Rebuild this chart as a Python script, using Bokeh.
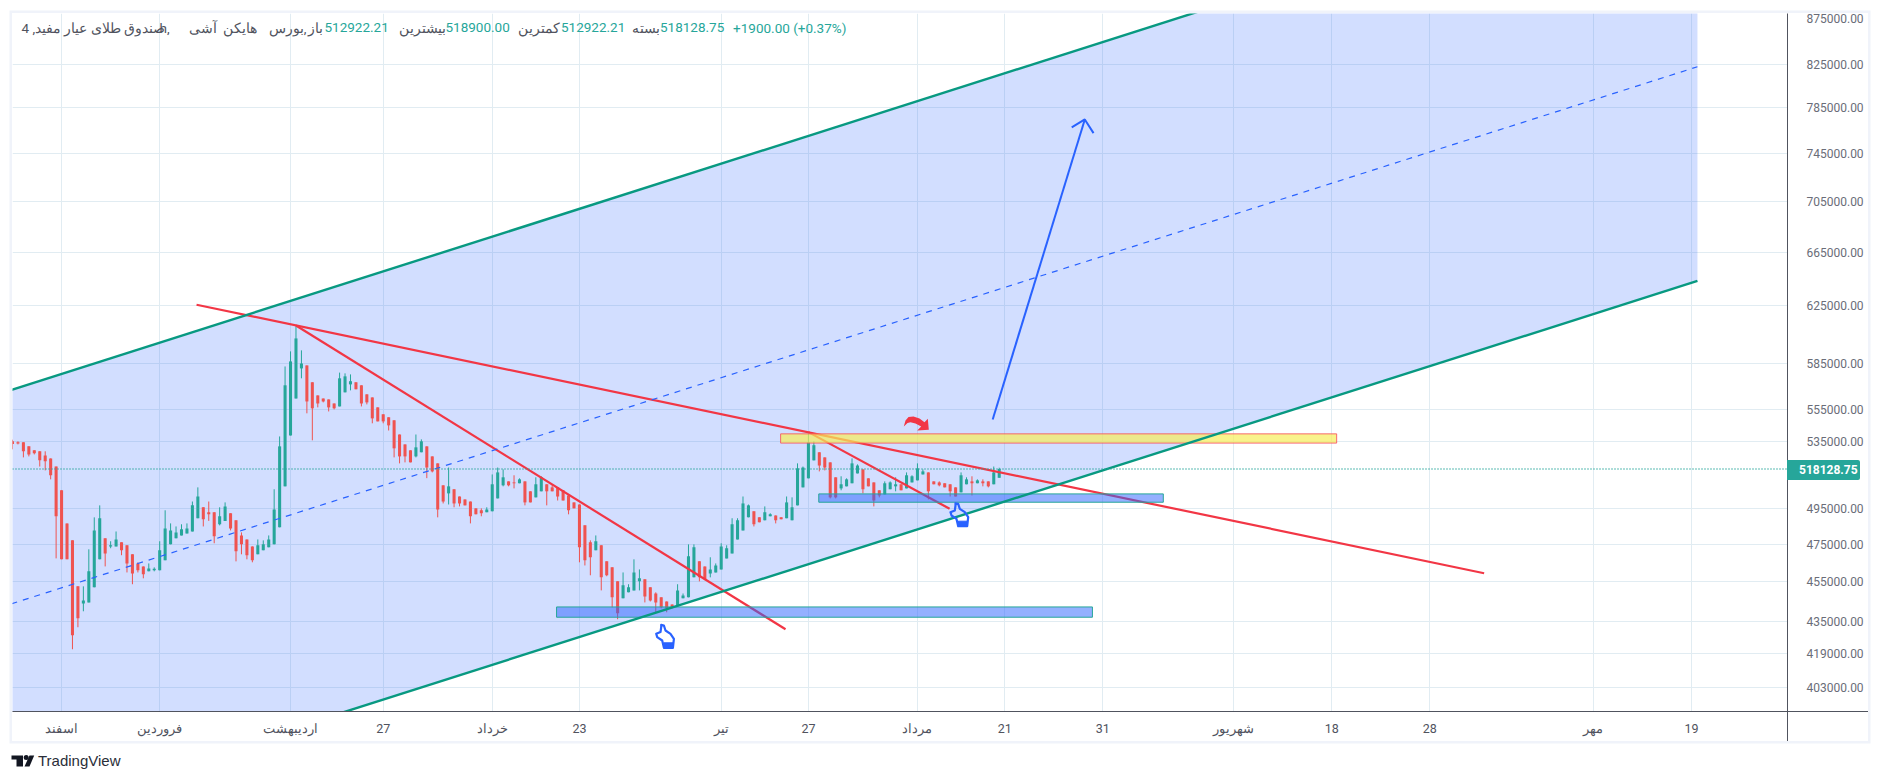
import math
from bokeh.plotting import figure
from bokeh.layouts import column
from bokeh.models import (Range1d, FixedTicker, NumeralTickFormatter, Span, Label, Div)
from bokeh.embed import file_html
from bokeh.resources import INLINE

# ---------- candles, prices in thousands ----------
opens_k = [
534.9,534.3,534.3,531.8,529.4,528.8,526.3,524.5,519.6,505.6,
486.7,477.3,452.7,443.9,444.4,452.2,467.0,478.4,474.0,474.0,
476.2,474.6,469.7,464.8,463.2,460.6,461.1,461.1,466.5,475.1,
478.4,480.0,481.1,482.2,489.6,495.8,493.0,493.0,486.2,488.1,
492.4,488.4,480.0,477.8,474.0,469.7,471.9,473.5,475.1,484.5,
507.9,538.5,561.9,581.7,583.7,572.5,563.9,561.9,561.3,558.7,
556.8,565.9,571.1,572.5,570.5,564.6,562.6,556.2,551.8,549.9,
548.0,539.1,533.0,529.4,525.7,528.2,531.8,525.7,521.5,508.5,
503.8,506.2,502.0,500.3,499.1,495.2,494.1,493.0,493.5,500.9,
508.5,510.8,510.2,509.7,510.8,505.0,501.5,505.0,509.1,507.3,
507.3,505.6,502.6,498.6,497.4,485.6,476.2,471.9,474.6,465.9,
462.7,455.3,446.5,449.6,450.6,455.3,456.4,452.2,449.0,447.0,
444.9,443.4,442.4,446.5,447.0,457.4,465.9,463.2,459.5,460.0,
461.6,467.5,470.2,477.8,482.8,490.1,493.5,490.1,488.4,490.7,
491.2,490.1,489.6,488.4,496.9,507.3,512.6,523.3,528.2,525.1,
522.1,513.2,506.7,507.9,509.7,515.5,517.9,512.6,510.2,505.6,
503.2,506.2,507.9,509.1,506.7,510.2,511.4,514.9,516.1,510.8,
510.2,509.7,509.1,507.3,504.4,509.1,510.8,509.7,510.8,510.8,
509.1,512.92]
closes_k = [
533.2,533.6,528.8,526.9,527.6,523.3,522.7,514.4,490.7,467.0,
467.0,427.9,436.4,445.4,460.6,482.8,489.6,470.2,474.6,477.8,
471.9,464.8,459.5,461.1,459.0,462.1,462.0,471.9,483.9,482.8,
481.7,483.4,483.9,496.9,502.0,489.0,491.8,479.5,490.7,496.3,
483.9,471.3,475.1,469.2,466.5,474.6,475.1,477.8,494.6,531.8,
570.5,586.4,602.1,585.0,560.0,555.6,558.7,560.0,556.2,555.6,
575.1,576.4,573.2,567.9,558.7,559.4,549.2,547.3,547.3,544.8,
530.6,525.7,525.7,522.1,531.2,534.9,519.0,516.7,494.6,499.1,
507.9,498.0,498.0,496.9,490.7,491.8,492.4,494.6,509.1,516.1,
513.2,508.5,509.7,512.0,498.6,498.6,509.1,513.2,505.0,505.0,
502.0,499.7,494.1,495.2,473.5,466.5,468.1,476.8,457.4,458.5,
447.0,438.9,453.3,452.2,460.0,456.9,447.5,445.4,444.4,441.9,
441.4,441.9,450.6,448.0,468.6,473.5,457.4,456.4,461.6,463.7,
474.0,473.0,486.2,488.4,498.0,496.9,486.2,487.3,493.0,491.8,
488.4,489.0,498.6,495.8,518.5,519.0,534.3,532.5,520.2,519.0,
501.5,501.5,509.1,512.0,521.5,520.2,506.2,507.9,499.7,502.6,
509.7,510.2,509.1,505.6,514.4,513.8,518.5,516.7,505.0,509.1,
508.5,507.3,505.0,502.0,514.4,512.0,509.7,511.4,509.7,507.9,
516.1,518.13]
highs_k = [
535.9,534.9,534.3,531.8,529.4,528.8,528.8,524.5,519.6,505.6,
486.7,477.3,452.7,452.7,472.4,490.1,496.9,478.4,476.8,482.2,
476.2,474.6,469.7,465.4,463.2,464.8,462.7,476.8,494.1,486.7,
485.0,486.2,486.7,499.1,507.3,495.8,499.1,493.0,495.8,498.6,
492.4,488.4,481.7,477.8,474.0,477.8,477.3,480.0,506.2,537.9,
583.0,593.2,610.5,593.9,583.7,572.5,563.9,561.9,561.3,558.7,
578.9,578.4,577.7,572.5,570.5,564.6,562.6,556.2,551.8,549.9,
548.0,539.1,533.0,529.4,539.1,536.1,531.8,525.7,521.5,508.5,
519.0,506.2,502.0,500.3,499.1,495.2,495.2,495.8,514.9,519.0,
517.9,510.8,514.4,512.6,510.8,505.0,513.2,513.8,509.1,508.5,
507.3,505.6,502.6,498.6,497.4,485.6,477.3,480.0,474.6,465.9,
462.7,455.3,460.0,453.8,467.0,461.6,456.4,452.2,449.6,447.0,
444.9,443.4,453.8,449.0,475.1,475.1,465.9,463.2,468.1,464.8,
475.7,474.6,489.6,489.6,502.0,497.4,493.5,490.1,496.3,492.4,
491.2,490.1,502.0,501.5,521.5,519.6,539.7,534.9,528.2,525.1,
522.1,513.2,513.8,512.6,524.5,520.9,517.9,512.6,510.2,505.6,
510.8,510.8,513.2,509.1,516.1,514.4,521.5,517.9,516.1,510.8,
510.8,509.7,509.1,507.3,516.1,513.2,513.8,512.0,512.0,510.8,
519.6,518.9]
lows_k = [
530.0,533.0,525.1,525.7,526.9,519.6,517.3,512.0,467.5,467.0,
467.0,421.1,431.9,439.9,444.4,452.2,467.0,463.2,473.0,474.0,
469.2,460.0,453.8,460.0,456.9,460.6,460.6,461.1,466.5,475.1,
478.4,480.0,481.1,482.2,489.6,485.0,488.1,475.7,485.6,488.1,
482.8,465.9,469.7,467.0,465.4,469.7,471.9,473.5,475.1,484.5,
507.9,538.5,561.9,575.1,552.4,535.5,556.2,559.4,553.6,554.9,
556.8,565.9,567.2,567.9,556.8,558.1,546.1,547.3,546.1,541.6,
525.1,521.5,522.1,522.1,525.1,528.2,512.7,516.1,490.1,498.0,
497.4,495.8,496.3,496.9,486.7,491.8,490.7,493.0,493.5,500.9,
507.9,507.9,506.7,509.7,496.9,498.6,501.5,505.0,496.9,505.0,
499.7,499.7,491.8,495.2,465.4,463.7,458.5,471.9,450.6,458.0,
441.9,435.9,446.5,449.6,450.6,450.6,444.4,444.9,439.4,441.4,
439.4,441.4,442.4,446.5,447.0,457.4,455.3,455.9,457.4,460.0,
461.6,467.5,470.2,477.8,482.8,490.1,485.0,487.3,488.4,490.7,
486.7,489.0,489.6,488.4,496.9,507.3,512.6,523.3,516.7,517.3,
500.9,500.9,505.6,507.9,509.7,515.5,503.8,507.9,496.3,501.5,
503.2,506.2,505.0,505.6,506.7,510.2,511.4,514.9,500.3,509.1,
507.9,507.3,502.0,502.0,504.4,509.1,502.6,509.7,507.9,507.3,
509.1,512.92]
assert len(opens_k) == len(closes_k) == len(highs_k) == len(lows_k) == 182

last_price = 518128.75
y_ticks = [875000, 825000, 785000, 745000, 705000, 665000, 625000, 585000, 555000,
           535000, 495000, 475000, 455000, 435000, 419000, 403000]
x_ticks = [9, 27, 51, 68, 88, 104, 130, 146, 166, 182, 200, 224, 242, 260, 290, 308]
x_labels = ["اسفند", "فروردین", "اردیبهشت", "27", "خرداد", "23", "تیر", "27", "مرداد",
            "21", "31", "شهریور", "18", "28", "مهر", "19"]

# ---------- drawings, as (bar index, price) ----------
channel_x = [-0.2, 309.08]
channel_upper = [567500, 1053000]
channel_lower = [346800, 643300]
channel_mid = [443700, 823000]
trend_long = ([33.76, 269.95], [625900, 459600])
trend_steep = ([52, 141.8], [611100, 430900])
trend_short = ([146, 171.9], [540600, 495000])
zone_yellow = (140.9, 242.9, 533800, 539500)
zone_blue_top = (147.9, 211.1, 498700, 503500)
zone_blue_low = (99.8, 198.1, 436900, 442100)
arrow_shaft = ([179.8, 196.7], [548500, 774600])
arrow_head = ([194.3, 196.7, 198.3], [767600, 774600, 762500])

# ---------- frame geometry ----------
Y_MIN, Y_MAX = 392000, 875000
X_MAX = 325.6
PX_BAR = 1775 / X_MAX
PX_LOG = 698 / math.log(Y_MAX / Y_MIN)
def i_at(px):
    return (px - 12) / PX_BAR
def p_at(py):
    return Y_MAX * math.exp(-(py - 13) / PX_LOG)

UP, DOWN = "#26a69a", "#ef5350"
BLUE = "#2962ff"
RED = "#f23645"
TEAL = "#089981"
GRID = "#e1ecf2"
AXIS = "#50535e"
BAND = "#f0f3fa"

p = figure(width=1856, height=728, output_backend="svg", toolbar_location=None,
           x_range=Range1d(0, X_MAX), y_range=Range1d(Y_MIN, Y_MAX),
           y_axis_type="log", y_axis_location="right",
           min_border_left=0, min_border_top=0, min_border_right=81, min_border_bottom=30,
           margin=(13, 0, 0, 12), styles={"box-shadow": "0 0 0 2.5px " + BAND})
p.outline_line_color = None
p.background_fill_color = "white"
p.border_fill_color = "white"

xa = p.xaxis[0]
xa.ticker = FixedTicker(ticks=x_ticks)
xa.major_label_overrides = dict(zip(x_ticks, x_labels))
xa.major_tick_line_color = None
xa.minor_tick_line_color = None
xa.axis_line_color = AXIS
xa.major_label_text_color = AXIS
xa.major_label_text_font = "Roboto"
xa.major_label_text_font_size = "12.5px"
xa.major_label_standoff = 3

ya = p.yaxis[0]
ya.ticker = FixedTicker(ticks=y_ticks)
ya.formatter = NumeralTickFormatter(format="0.00")
ya.major_tick_line_color = None
ya.minor_tick_line_color = None
ya.axis_line_color = AXIS
ya.major_label_text_color = "#6a6d78"
ya.major_label_text_font = "Roboto"
ya.major_label_text_font_size = "12px"
ya.major_label_standoff = 13

p.xgrid.grid_line_color = GRID
p.ygrid.grid_line_color = GRID

# channel fill
p.patch(channel_x + channel_x[::-1], channel_upper + channel_lower[::-1],
        fill_color=BLUE, fill_alpha=0.21, line_alpha=0)

# candles
idx = list(range(len(opens_k)))
o = [v * 1000 for v in opens_k]
c = [v * 1000 for v in closes_k]
h = [v * 1000 for v in highs_k]
l = [v * 1000 for v in lows_k]
col = [UP if cv >= ov else DOWN for ov, cv in zip(o, c)]
p.segment(idx, h, idx, l, line_color=col, line_width=1)
p.vbar(x=idx, top=[max(a, b) for a, b in zip(o, c)], bottom=[min(a, b) for a, b in zip(o, c)],
       width=0.56, fill_color=col, line_alpha=0)

# last price line
p.add_layout(Span(location=last_price, dimension="width", line_color=UP, line_width=1.3, line_dash="1 2"))

# trend lines
p.line(*trend_long, line_color=RED, line_width=2.2)
p.line(*trend_steep, line_color=RED, line_width=2.2)
p.line(*trend_short, line_color=RED, line_width=2.2)

# zones
def zone(z, fill, alpha, edge, edge_alpha=1.0):
    p.quad(left=z[0], right=z[1], bottom=z[2], top=z[3], fill_color=fill, fill_alpha=alpha,
           line_color=edge, line_width=1, line_alpha=edge_alpha)
zone(zone_yellow, "#f7ee5a", 0.7, "#f7525f", 0.85)
zone(zone_blue_top, BLUE, 0.5, UP)
zone(zone_blue_low, BLUE, 0.5, UP)

# channel borders
p.line(channel_x, channel_upper, line_color=TEAL, line_width=2.4)
p.line(channel_x, channel_lower, line_color=TEAL, line_width=2.4)
p.line(channel_x, channel_mid, line_color=BLUE, line_width=1.2, line_dash="6 6")

# blue target arrow
p.line(*arrow_shaft, line_color=BLUE, line_width=2)
p.line(*arrow_head, line_color=BLUE, line_width=2)

# hand icons (outline given in px around the anchor)
hand_dx = [5, 7.7, 9.3, 14.3, 17.7, 16.7, 7.7, 6, 1, 0, 4.3, 5]
hand_dy = [0, 0.7, 5.7, 9, 14, 23, 23, 15.7, 12.3, 9, 7.3, 2.3]
cuff_dx = [7.5, 16.9, 16.7, 7.7]
cuff_dy = [18, 18, 23, 23]
for anchor_px, anchor_py in [(655.7, 624.3), (950.0, 502.7)]:
    p.patch([i_at(anchor_px + d) for d in hand_dx], [p_at(anchor_py + d) for d in hand_dy],
            fill_alpha=0, line_color=BLUE, line_width=2.2, line_join="round")
    p.patch([i_at(anchor_px + d) for d in cuff_dx], [p_at(anchor_py + d) for d in cuff_dy],
            fill_color=BLUE, line_color=BLUE, line_width=1)

# red curved arrow
curve_px = [903.3, 905, 908, 913, 919, 924, 927.3, 928.3, 916.7, 920.7, 915, 910, 907, 903.3]
curve_py = [426, 420, 416.5, 416, 418, 421.7, 418.3, 429.3, 430, 426, 423, 421.7, 422.5, 426]
p.patch([i_at(v) for v in curve_px], [p_at(v) for v in curve_py], fill_color=RED, line_alpha=0)

# header
HEAD_Y = p_at(27)
def head(text, px, color, align="left"):
    p.add_layout(Label(x=i_at(px), y=HEAD_Y, text=text, text_color=color, text_align=align,
                       text_baseline="middle", text_font="Roboto", text_font_size="13.5px"))
GREY = "#50535e"
head("صندوق طلای عیار مفید, 4", 21, GREY)
head("h,", 159, GREY)
head("آشی", 216, GREY, "right")
head("هایکن", 256, GREY, "right")
head("بورس,", 306, GREY, "right")
head("باز", 322, GREY, "right")
head("512922.21", 324, UP)
head("بیشترین", 445, GREY, "right")
head("518900.00", 445, UP)
head("کمترین", 559, GREY, "right")
head("512922.21", 560.5, UP)
head("بسته", 659, GREY, "right")
head("518128.75", 659.5, UP)
head("+1900.00 (+0.37%)", 732.6, UP)

# TradingView mark under the chart
logo_bar_x = [11, 22.5, 22.5, 16, 16, 11]
logo_bar_y = [755, 755, 766, 766, 759, 759]
logo_v_x = [29, 33.7, 29, 24]
logo_v_y = [755, 755, 766, 766]
q = figure(frame_width=200, frame_height=30, output_backend="svg", toolbar_location=None,
           x_range=Range1d(0, 200), y_range=Range1d(774, 744),
           min_border=0, x_axis_location=None, y_axis_location=None, margin=(3, 0, 0, 0))
q.outline_line_color = None
q.grid.visible = False
q.patch(logo_bar_x, logo_bar_y, fill_color="#131722", line_alpha=0)
q.patch(logo_v_x, logo_v_y, fill_color="#131722", line_alpha=0)
q.scatter([25.7], [757], size=5, fill_color="#131722", line_alpha=0)
q.text([37.5], [760], text=["TradingView"], text_color="#2a2e39", text_baseline="middle",
       text_font_size="15px")

# price badge and axis extensions on the price strip, laid over the chart's outer area
def strip(x0, x1, y0, y1, color, text="", extra=None):
    st = {"position": "absolute", "left": f"{x0}px", "top": f"{y0}px", "z-index": "5",
          "background-color": color, "margin": "0"}
    st.update(extra or {})
    return Div(text=text, width=x1 - x0, height=y1 - y0, margin=0, styles=st)

badge = strip(1787, 1860, 460, 480, UP, "518128.75",
              {"color": "white", "font-family": "Roboto", "font-size": "12px", "font-weight": "bold",
               "line-height": "20px", "padding-left": "12px", "box-sizing": "border-box",
               "border-radius": "0 2px 2px 0"})
line_h = strip(1787, 1868, 711, 712, AXIS)
line_v = strip(1787, 1788, 711, 741, AXIS)

page = column(p, q, badge, line_h, line_v, spacing=0)
open("out.html", "w").write(file_html(page, INLINE))
